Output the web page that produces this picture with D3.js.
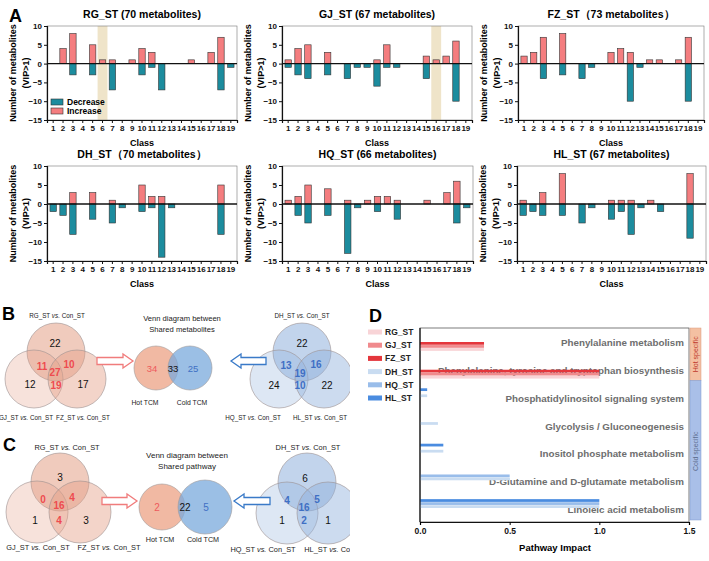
<!DOCTYPE html>
<html>
<head>
<meta charset="utf-8">
<script src="https://cdn.jsdelivr.net/npm/d3@7"></script>
<style>
body{margin:0;background:#fff}
svg{display:block;font-family:"Liberation Sans",Arial,sans-serif}
</style>
</head>
<body>
<div class="canvas"></div>
<script>
// ---- panel A data ----
const classes = ['1','2','3','4','5','6','7','8','9','10','11','12','13','14','15','16','17','18','19']
const rgInc = [0,4,8,0,5,1,1,0,1,4,3,0,0,0,1,0,3,7,0]
const rgDec = [0,0,-3,0,-3,0,-7,0,0,-3,-1,-7,0,0,0,0,0,-7,-1]
const gjInc = [1,4,5,0,3,0,0,0,0,1,5,0,0,0,2,1,2,6,0]
const gjDec = [-1,-3,-4,0,-3,0,-4,-1,-1,-6,-1,-1,0,0,-4,0,0,-10,0]
const fzInc = [2,3,7,0,8,0,0,0,0,3,4,3,0,1,1,0,1,7,0]
const fzDec = [0,0,-4,0,-3,0,-4,-1,0,0,0,-10,-1,0,0,0,0,-10,0]
const dhInc = [0,0,3,0,3,0,1,0,0,5,2,2,0,0,0,0,0,5,0]
const dhDec = [-2,-3,-8,0,-4,0,-5,-1,0,-2,-1,-14,-1,0,0,0,0,-8,0]
const hqInc = [1,2,5,0,4,0,1,0,1,2,2,1,0,0,1,0,3,6,0]
const hqDec = [0,-3,-5,0,-3,0,-13,-1,0,-2,0,-4,0,0,0,0,0,-5,-1]
const hlInc = [1,0,3,0,8,0,0,0,0,1,1,1,0,1,0,0,0,8,0]
const hlDec = [-3,-2,-3,0,-3,0,-5,-1,0,-4,-2,-8,-1,0,-2,0,0,-9,0]
const yTicks = [10,5,0,-5,-10,-15]

// ---- panel B / C data (top, left, right, top&left, top&right, left&right, all) ----
const hotMetLabels = ['RG_ST', 'GJ_ST', 'FZ_ST']
const coldMetLabels = ['DH_ST', 'HQ_ST', 'HL_ST']
const hotMetCounts = [22, 12, 17, 11, 10, 19, 27]
const coldMetCounts = [22, 24, 22, 13, 16, 10, 19]
const sharedMetCounts = [34, 33, 25]   // hot only, both, cold only
const hotPathCounts = [3, 1, 3, 0, 4, 4, 16]
const coldPathCounts = [6, 1, 1, 4, 5, 2, 16]
const sharedPathCounts = [2, 22, 5]

// ---- panel D data ----
const pathways = ['Phenylalanine metabolism', 'Phenylalanine, tyrosine and tryptophan biosynthesis',
    'Phosphatidylinositol signaling system', 'Glycolysis / Gluconeogenesis',
    'Inositol phosphate metabolism', 'D-Glutamine and D-glutamate metabolism', 'Linoleic acid metabolism']
const dGroups = ['RG_ST', 'GJ_ST', 'FZ_ST', 'DH_ST', 'HQ_ST', 'HL_ST']
const impactRG = [0.357, 1, 0, 0, 0, 0, 0]
const impactGJ = [0.357, 1, 0, 0, 0, 0, 0]
const impactFZ = [0.357, 1, 0, 0, 0, 0, 0]
const impactDH = [0, 0, 0.04, 0.1, 0.13, 0.5, 1]
const impactHQ = [0, 0, 0, 0, 0, 0.5, 1]
const impactHL = [0, 0, 0.04, 0, 0.13, 0, 1]
const impactTicks = [0, 0.5, 1, 1.5]

const dColors = ['#f8d4d7', '#f08a8d', '#e4363c', '#c9dcf1', '#99bdea', '#4a8ce0']
const red = '#f47d7f', teal = '#1c8c9e'

const svg = d3.select('.canvas')
    .append('svg')
    .attr('width', 709)
    .attr('height', 561)

const letter = (t, x, y) => svg.append('text').attr('x', x).attr('y', y)
    .attr('font-size', 18).attr('font-weight', 'bold').text(t)

// ================= panel A =================
letter('A', 9, 22)

const charts = [
    {title: 'RG_ST (70 metabolites)', inc: rgInc, dec: rgDec, x0: 47, x1: 237, y0: 26, y1: 120, mark: '6', legend: true},
    {title: 'GJ_ST (67 metabolites)', inc: gjInc, dec: gjDec, x0: 282, x1: 472, y0: 26, y1: 120, mark: '16'},
    {title: 'FZ_ST\uFF0873 metabolites\uFF09', inc: fzInc, dec: fzDec, x0: 518, x1: 704, y0: 26, y1: 120},
    {title: 'DH_ST\uFF0870 metabolites\uFF09', inc: dhInc, dec: dhDec, x0: 47, x1: 237, y0: 166, y1: 261},
    {title: 'HQ_ST (66 metabolites)', inc: hqInc, dec: hqDec, x0: 282, x1: 473, y0: 166, y1: 261},
    {title: 'HL_ST (67 metabolites)', inc: hlInc, dec: hlDec, x0: 517, x1: 706, y0: 166, y1: 261}
]

charts.forEach(c => {
    const g = svg.append('g')
    const x = d3.scaleBand()
        .domain(classes)
        .range([c.x0, c.x1])
        .paddingInner(0.35)
        .paddingOuter(0.3)
    const y = d3.scaleLinear()
        .domain([-15, 10])
        .range([c.y1, c.y0])

    // highlighted class
    if (c.mark) {
        g.append('rect')
            .attr('x', x(c.mark) - x.step() * 0.175)
            .attr('y', c.y0)
            .attr('width', x.step())
            .attr('height', c.y1 - c.y0)
            .attr('fill', '#efe4c9')
    }

    // frame
    g.append('rect')
        .attr('x', c.x0).attr('y', c.y0)
        .attr('width', c.x1 - c.x0).attr('height', c.y1 - c.y0)
        .attr('fill', 'none').attr('stroke', '#777').attr('stroke-width', 0.6)

    const incData = classes.map((k, i) => ({k, v: c.inc[i]})).filter(d => d.v > 0)
    const decData = classes.map((k, i) => ({k, v: c.dec[i]})).filter(d => d.v < 0)

    g.selectAll('rect.inc')
        .data(incData)
        .enter()
        .append('rect')
        .attr('class', 'inc')
        .attr('x', d => x(d.k))
        .attr('width', x.bandwidth())
        .attr('y', d => y(d.v))
        .attr('height', d => y(0) - y(d.v))
        .attr('fill', red)
        .attr('stroke', '#333')
        .attr('stroke-width', 0.6)

    g.selectAll('rect.dec')
        .data(decData)
        .enter()
        .append('rect')
        .attr('class', 'dec')
        .attr('x', d => x(d.k))
        .attr('width', x.bandwidth())
        .attr('y', y(0))
        .attr('height', d => y(d.v) - y(0))
        .attr('fill', teal)
        .attr('stroke', '#333')
        .attr('stroke-width', 0.6)

    // zero line
    g.append('line')
        .attr('x1', c.x0).attr('x2', c.x1)
        .attr('y1', y(0)).attr('y2', y(0))
        .attr('stroke', '#111').attr('stroke-width', 1.3)

    const yAxis = d3.axisLeft(y).tickValues(yTicks).tickSize(3).tickPadding(2)
    const xAxis = d3.axisBottom(x).tickSize(3).tickPadding(2)
    const ya = g.append('g').attr('transform', `translate(${c.x0},0)`).call(yAxis)
    const xa = g.append('g').attr('transform', `translate(0,${c.y1})`).call(xAxis)
    ;[ya, xa].forEach(a => {
        a.selectAll('text').attr('font-size', 8).attr('font-weight', 'bold').attr('fill', '#111')
            .attr('font-family', '"Liberation Sans",Arial,sans-serif')
        a.select('.domain').attr('stroke', '#111').attr('stroke-width', 1.2)
        a.selectAll('.tick line').attr('stroke', '#111')
    })

    const cx = (c.x0 + c.x1) / 2
    g.append('text').attr('x', cx).attr('y', c.y0 - 8)
        .attr('text-anchor', 'middle').attr('font-size', 10.5).attr('font-weight', 'bold')
        .text(c.title)
    g.append('text').attr('x', cx).attr('y', c.y1 + 26)
        .attr('text-anchor', 'middle').attr('font-size', 9).attr('font-weight', 'bold')
        .text('Class')
    const cy = (c.y0 + c.y1) / 2
    g.append('text').attr('transform', `translate(${c.x0 - 31},${cy}) rotate(-90)`)
        .attr('text-anchor', 'middle').attr('font-size', 9).attr('font-weight', 'bold')
        .text('Number of metabolites')
    g.append('text').attr('transform', `translate(${c.x0 - 18},${cy}) rotate(-90)`)
        .attr('text-anchor', 'middle').attr('font-size', 9).attr('font-weight', 'bold')
        .text('(VIP>1)')

    if (c.legend) {
        const lg = g.append('g').attr('transform', `translate(${c.x0 + 4},${c.y1 - 18})`)
        ;[['Decrease', teal], ['Increase', red]].forEach((d, i) => {
            lg.append('rect').attr('x', 0).attr('y', i * 9 - 3).attr('width', 12).attr('height', 6)
                .attr('fill', d[1]).attr('stroke', '#333').attr('stroke-width', 0.6)
            lg.append('text').attr('x', 16).attr('y', i * 9 + 3)
                .attr('font-size', 8.5).attr('font-weight', 'bold').text(d[0])
        })
    }
})

// ================= panels B, C =================
const venns = svg.append('g')
svg.append('clipPath').attr('id', 'vclip').append('rect')
    .attr('x', 0).attr('y', 290).attr('width', 350).attr('height', 271)
venns.attr('clip-path', 'url(#vclip)')

const vsLabel = (g, name, x, y, fs) => {
    const t = g.append('text').attr('x', x).attr('y', y).attr('text-anchor', 'middle')
        .attr('font-size', fs).attr('fill', '#222')
    t.append('tspan').text(name + ' ')
    t.append('tspan').attr('font-style', 'italic').text('vs.')
    t.append('tspan').text(' Con_ST')
}

// three-set venn; L = layout object
const venn3 = (L, names, counts, hot) => {
    const g = venns.append('g')
    const fill = hot ? '#e4a087' : '#8fb0dc'
    const ops = [0.55, 0.3, 0.45]
    L.circles.forEach((c, i) => {
        g.append('circle').attr('cx', c[0]).attr('cy', c[1]).attr('r', c[2])
            .attr('fill', fill).attr('fill-opacity', ops[i])
            .attr('stroke', '#9c9090').attr('stroke-width', 0.6)
    })
    const numCol = hot ? '#ee4b4f' : '#3f6fc4'
    counts.forEach((n, i) => {
        g.append('text').attr('x', L.nums[i][0]).attr('y', L.nums[i][1])
            .attr('text-anchor', 'middle').attr('dominant-baseline', 'central')
            .attr('font-size', L.fs).attr('font-weight', i < 3 ? 'normal' : 'bold')
            .attr('fill', i < 3 ? '#111' : numCol)
            .text(n)
    })
    names.forEach((n, i) => vsLabel(g, n, L.labels[i][0], L.labels[i][1], L.lfs))
}

const venn2 = (L, counts, title) => {
    const g = venns.append('g')
    g.append('circle').attr('cx', L.hot[0]).attr('cy', L.hot[1]).attr('r', L.hot[2])
        .attr('fill', '#f1b9a3').attr('stroke', '#a09a9a').attr('stroke-width', 0.6)
    g.append('circle').attr('cx', L.cold[0]).attr('cy', L.cold[1]).attr('r', L.cold[2])
        .attr('fill', '#7aa9dc').attr('fill-opacity', 0.75).attr('stroke', '#a09a9a').attr('stroke-width', 0.6)
    const cols = ['#ee5a5c', '#111', '#3f6fc4']
    counts.forEach((n, i) => {
        g.append('text').attr('x', L.nums[i]).attr('y', L.hot[1])
            .attr('text-anchor', 'middle').attr('dominant-baseline', 'central')
            .attr('font-size', L.fs).attr('fill', cols[i]).text(n)
    })
    title.forEach((t, i) => {
        g.append('text').attr('x', L.tx).attr('y', L.ty + i * 11).attr('text-anchor', 'middle')
            .attr('font-size', L.tfs).attr('fill', '#222').text(t)
    })
    ;[['Hot TCM', L.hl[0]], ['Cold TCM', L.hl[1]]].forEach(d => {
        g.append('text').attr('x', d[1]).attr('y', L.hy).attr('text-anchor', 'middle')
            .attr('font-size', L.lfs).attr('fill', '#222').text(d[0])
    })
}

const arrow = (a, b, cy, col) => {
    const dir = b > a ? 1 : -1
    const h = b - dir * 10
    const p = `M${a},${cy - 3.5}L${h},${cy - 3.5}L${h},${cy - 7}L${b},${cy}L${h},${cy + 7}L${h},${cy + 3.5}L${a},${cy + 3.5}Z`
    venns.append('path').attr('d', p).attr('fill', '#fff').attr('stroke', col).attr('stroke-width', 1.3)
}

letter('B', 2, 320)
venn3({circles: [[56, 352, 29], [34, 379, 29], [77, 379, 29]],
    nums: [[55, 343], [30, 384], [83, 384], [42, 366], [69, 364], [56, 385], [55, 372]],
    labels: [[57, 318], [26, 420], [83, 420]], fs: 10, lfs: 6.3}, hotMetLabels, hotMetCounts, true)
venn3({circles: [[302, 352, 29], [279, 379, 29], [324, 379, 29]],
    nums: [[302, 343], [274, 385], [327, 385], [286, 365], [316, 364], [300, 385], [300, 373]],
    labels: [[302, 318], [253, 420], [320, 420]], fs: 10, lfs: 6.3}, coldMetLabels, coldMetCounts, false)
venn2({hot: [156, 368, 22], cold: [190, 368, 22], nums: [152, 173, 193], fs: 9.5,
    tx: 182, ty: 321, tfs: 7.6, hl: [145, 192], hy: 405, lfs: 6.8},
    sharedMetCounts, ['Venn diagram between', 'Shared metabolites'])
arrow(97, 133, 361, '#f07c7c')
arrow(266, 231, 361, '#3a7ac8')

letter('C', 3, 451)
venn3({circles: [[60, 482, 29], [37, 512, 31], [80, 512, 31]],
    nums: [[60, 477], [35, 520], [86, 520], [43, 499], [72, 497], [59, 520], [59, 505]],
    labels: [[67, 450], [38, 550], [109, 550]], fs: 10, lfs: 7.4}, hotMetLabels, hotPathCounts, true)
venn3({circles: [[307, 482, 29], [287, 513, 31], [328, 513, 31]],
    nums: [[305, 478], [282, 520], [328, 520], [287, 500], [317, 499], [304, 520], [304, 507]],
    labels: [[308, 450], [263, 552], [336, 552]], fs: 10, lfs: 7.4}, coldMetLabels, coldPathCounts, false)
venn2({hot: [162, 507, 23], cold: [205, 507, 27], nums: [157, 185, 206], fs: 10,
    tx: 187, ty: 458, tfs: 8, hl: [160, 203], hy: 542, lfs: 7.2},
    sharedPathCounts, ['Venn diagram between', 'Shared pathway'])
arrow(102, 137, 501, '#f07c7c')
arrow(270, 234, 501, '#3a7ac8')

// ================= panel D =================
letter('D', 369, 322)

const impacts = [impactRG, impactGJ, impactFZ, impactDH, impactHQ, impactHL]
const px0 = 420, px1 = 689, py0 = 328, py1 = 522
const xD = d3.scaleLinear().domain([0, 1.5]).range([px0, px1])
const yD = d3.scaleBand().domain(pathways).range([py0, py1])
// GraphPad draws the first series at the bottom of each group
const inner = d3.scaleBand().domain(dGroups.slice().reverse()).range([0, 18]).paddingInner(0.1)
const gOff = (yD.bandwidth() - 18) / 2

const dg = svg.append('g')

// legend
dGroups.forEach((gname, i) => {
    const ly = 332 + i * 13.2
    dg.append('rect').attr('x', 368).attr('y', ly - 2.5).attr('width', 14).attr('height', 5).attr('fill', dColors[i])
    dg.append('text').attr('x', 385).attr('y', ly).attr('dominant-baseline', 'central')
        .attr('font-size', 8.5).attr('font-weight', 'bold').attr('fill', '#222').text(gname)
})

dg.append('rect').attr('x', px0).attr('y', py0).attr('width', px1 - px0).attr('height', py1 - py0)
    .attr('fill', 'none').attr('stroke', '#444').attr('stroke-width', 0.7)

dg.selectAll('text.pw')
    .data(pathways)
    .enter()
    .append('text')
    .attr('class', 'pw')
    .attr('x', 684)
    .attr('y', d => yD(d) + yD.bandwidth() / 2 + 1)
    .attr('text-anchor', 'end')
    .attr('dominant-baseline', 'central')
    .attr('font-size', 9.8)
    .attr('font-weight', 'bold')
    .attr('fill', '#6e6e6e')
    .text(d => d)

const barData = []
dGroups.forEach((gname, gi) => {
    pathways.forEach((p, pi) => {
        if (impacts[gi][pi] > 0) barData.push({g: gname, p, v: impacts[gi][pi], c: dColors[gi]})
    })
})
dg.selectAll('rect.bar')
    .data(barData)
    .enter()
    .append('rect')
    .attr('class', 'bar')
    .attr('x', px0)
    .attr('y', d => yD(d.p) + gOff + inner(d.g))
    .attr('width', d => xD(d.v) - px0)
    .attr('height', inner.bandwidth())
    .attr('fill', d => d.c)

const xAxD = dg.append('g').attr('transform', `translate(0,${py1})`)
    .call(d3.axisBottom(xD).tickValues(impactTicks).tickFormat(d3.format('.1f')).tickSize(3).tickPadding(3))
xAxD.selectAll('text').attr('font-size', 8.5).attr('font-weight', 'bold').attr('fill', '#111')
    .attr('font-family', '"Liberation Sans",Arial,sans-serif')
xAxD.select('.domain').attr('stroke', '#111').attr('stroke-width', 1.2)
dg.append('line').attr('x1', px0).attr('x2', px0).attr('y1', py0).attr('y2', py1)
    .attr('stroke', '#111').attr('stroke-width', 1.2)
dg.append('text').attr('x', 555).attr('y', 551).attr('text-anchor', 'middle')
    .attr('font-size', 9.5).attr('font-weight', 'bold').text('Pathway Impact')

// specificity band
const hotEnd = yD(pathways[2]) - 3
dg.append('rect').attr('x', 690).attr('y', py0).attr('width', 11).attr('height', hotEnd - py0)
    .attr('fill', '#f4c0a2').attr('stroke', '#d99a80').attr('stroke-width', 0.5)
dg.append('rect').attr('x', 690).attr('y', hotEnd).attr('width', 11).attr('height', py1 - 2 - hotEnd)
    .attr('fill', '#a9bfe8').attr('stroke', '#7f9bd0').attr('stroke-width', 0.5)
dg.append('text').attr('transform', `translate(695.5,${(py0 + hotEnd) / 2}) rotate(-90)`)
    .attr('text-anchor', 'middle').attr('dominant-baseline', 'central')
    .attr('font-size', 7).attr('fill', '#c0392b').text('Hot specific')
dg.append('text').attr('transform', `translate(695.5,${(hotEnd + py1) / 2}) rotate(-90)`)
    .attr('text-anchor', 'middle').attr('dominant-baseline', 'central')
    .attr('font-size', 7).attr('fill', '#5f6f90').text('Cold specific')
</script>
</body>
</html>
